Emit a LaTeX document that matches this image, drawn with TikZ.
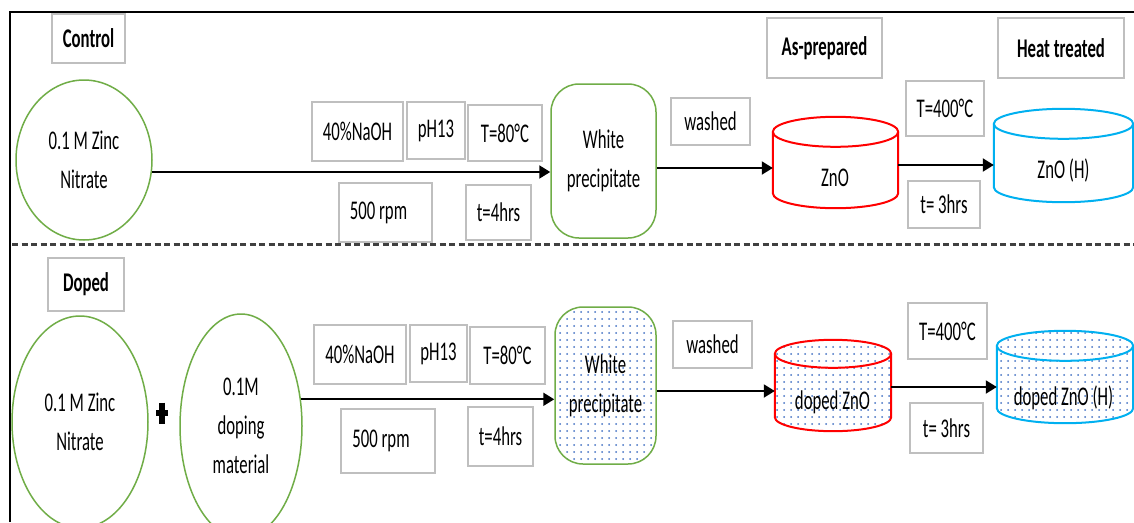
\documentclass[tikz,border=0pt]{standalone}
\usepackage{fontspec}
\setmainfont{Carlito}[FakeStretch=0.62]
\usetikzlibrary{shapes.geometric, arrows.meta, patterns.meta, calc}
\definecolor{boxgray}{RGB}{191,191,191}
\definecolor{grn}{RGB}{112,173,71}
\definecolor{cylred}{RGB}{255,0,0}
\definecolor{cylcyan}{RGB}{0,176,240}
\definecolor{dotblue}{RGB}{68,114,196}
\tikzset{
  box/.style={draw=boxgray, line width=2pt, inner sep=0pt, align=center},
  hbox/.style={box, font=\fontsize{27}{39}\selectfont\bfseries},
  circ/.style={ellipse, draw=grn, line width=1.5pt, inner sep=0pt, align=center},
  wpbox/.style={rectangle, rounded corners=28pt, draw=grn, line width=1.5pt, inner sep=0pt, align=center},
  cylbox/.style={rectangle, draw=none, inner sep=0pt},
  cyltext/.style={inner sep=0pt},
  arr/.style={line width=2pt, -{Triangle[length=11pt,width=13pt]}},
  dotfill/.style={pattern={Dots[distance=7pt, radius=1pt]}, pattern color=dotblue},
  sepline/.style={line width=3pt, black!75, dash pattern=on 6pt off 3.5pt},
  plusbar/.style={line width=5.5pt, black},
}
\newcommand\drawcyl[4]{%
  \draw[draw=#2, line width=2pt, #4] let \p1=(#1.north west), \p2=(#1.south east), \n1={(\x2-\x1)/2} in
    (\x1,\y1-#3) -- (\x1,\y2+#3) arc[start angle=180, end angle=360, x radius=\n1, y radius=#3]
    -- (\x2,\y1-#3) arc[start angle=0, end angle=180, x radius=\n1, y radius=#3] -- cycle;
  \draw[draw=#2, line width=2pt] let \p1=(#1.north west), \p2=(#1.south east), \n1={(\x2-\x1)/2} in
    (\x1,\y1-#3) arc[start angle=180, end angle=360, x radius=\n1, y radius=#3];
}
\begin{document}
\begin{tikzpicture}[x=1pt, y=-1pt, font=\fontsize{27}{39}\selectfont]
\useasboundingbox (0,0) rectangle (1134,522);
\clip (0,0) rectangle (1134,522);
\fill[white] (0,0) rectangle (1134,522);

% frame and separator
\draw[line width=2pt] (10,522) -- (10,12) -- (1134,12);
\draw[sepline] (12,244) -- (1134,244);

% ---------- Control row ----------
\node[hbox, minimum width=73pt, minimum height=49pt] (ctrl) at (88.5,38.5) {Control};
\node[circ, minimum width=136pt, minimum height=160pt] (c1) at (84,160) {0.1 M Zinc\\Nitrate};
\node[box, minimum width=91pt, minimum height=59pt] (naoh1) at (357.5,131.5) {40\%NaOH};
\node[box, minimum width=58pt, minimum height=57pt] (ph1) at (436,130.5) {pH13};
\node[box, minimum width=74pt, minimum height=56pt] (tA1) at (505,133) {T=80°C};
\node[box, minimum width=93pt, minimum height=59pt] (rpm1) at (385.5,212.5) {\hspace*{-14pt}500 rpm};
\node[box, minimum width=65pt, minimum height=55pt] (tB1) at (498.5,212.5) {t=4hrs};
\node[wpbox, minimum width=105pt, minimum height=154pt] (wp1) at (603.5,161) {White\\precipitate};
\node[box, minimum width=79pt, minimum height=47pt] (wash1) at (710.5,121.5) {washed};
\node[hbox, minimum width=115pt, minimum height=60pt] (asprep) at (824.5,48) {As-prepared};
\node[box, minimum width=78pt, minimum height=55pt] (tC1) at (945,108.5) {T=400°C};
\node[box, minimum width=72pt, minimum height=47pt] (tD1) at (944,204.5) {t= 3hrs};
\node[hbox, minimum width=126pt, minimum height=60pt] (heat) at (1061,48) {Heat treated};

\node[cylbox, minimum width=125pt, minimum height=91pt] (zno) at (835.5,162.5) {};
\drawcyl{zno}{cylred}{15pt}{}
\node[cyltext] (znot) at (835,178) {ZnO};
\node[cylbox, minimum width=139pt, minimum height=93pt] (znoh) at (1063.5,155.5) {};
\drawcyl{znoh}{cylcyan}{15pt}{}
\node[cyltext] (znoht) at (1063.5,170) {ZnO (H)};

\draw[arr] (c1.-10) -- (c1.-10 -| wp1.west);
\draw[arr] ([yshift=-7pt]wp1.east) -- ([yshift=-7pt]wp1.east -| zno.west);
\draw[arr] ([yshift=-2.5pt]zno.east) -- ([yshift=-2.5pt]zno.east -| znoh.west);

% ---------- Doped row ----------
\node[hbox, minimum width=76pt, minimum height=53pt] (doped) at (86,284.5) {Doped};
\node[circ, minimum width=136pt, minimum height=212pt] (c2a) at (80,422) {0.1 M Zinc\\Nitrate};
\node[inner sep=0pt, minimum size=0pt] (plus) at (162,413) {};
\draw[plusbar] (plus) +(0,-10.5) -- +(0,10.5);
\draw[plusbar, line width=6pt] (plus) +(-6,0) -- +(6,0);
\node[circ, minimum width=122pt, minimum height=224pt] (c2) at (241,426) {0.1M\\doping\\material};
\node[box, minimum width=92pt, minimum height=59pt] (naoh2) at (360,354.5) {40\%NaOH};
\node[box, minimum width=57pt, minimum height=57pt] (ph2) at (438.5,353.5) {pH13};
\node[box, minimum width=75pt, minimum height=57pt] (tA2) at (507.5,355.5) {T=80°C};
\node[box, minimum width=94pt, minimum height=64pt] (rpm2) at (388,441) {\hspace*{-14pt}500 rpm};
\node[box, minimum width=65pt, minimum height=59pt] (tB2) at (500.5,436.5) {t=4hrs};
\node[wpbox, dotfill, minimum width=101pt, minimum height=157pt] (wp2) at (605.5,385.5) {White\\precipitate};
\node[box, minimum width=79pt, minimum height=47pt] (wash2) at (712.5,344.5) {washed};
\node[box, minimum width=79pt, minimum height=56pt] (tC2) at (947.5,331) {T=400°C};
\node[box, minimum width=73pt, minimum height=50pt] (tD2) at (946.5,428) {t= 3hrs};

\node[cylbox, minimum width=116pt, minimum height=91pt] (dzno) at (833,385.5) {};
\drawcyl{dzno}{cylred}{14pt}{dotfill}
\node[cyltext] (dznot) at (832.5,402) {doped ZnO};
\node[cylbox, minimum width=136pt, minimum height=92pt] (dznoh) at (1065,377) {};
\drawcyl{dznoh}{cylcyan}{15pt}{dotfill}
\node[cyltext] (dznoht) at (1063.5,398) {doped ZnO (H)};

\draw[arr] (c2.24) -- (c2.24 -| wp2.west);
\draw[arr] ([yshift=-5.5pt]wp2.east) -- ([yshift=-5.5pt]wp2.east -| dzno.west);
\draw[arr] ([yshift=-1.5pt]dzno.east) -- ([yshift=-1.5pt]dzno.east -| dznoh.west);
\end{tikzpicture}
\end{document}
